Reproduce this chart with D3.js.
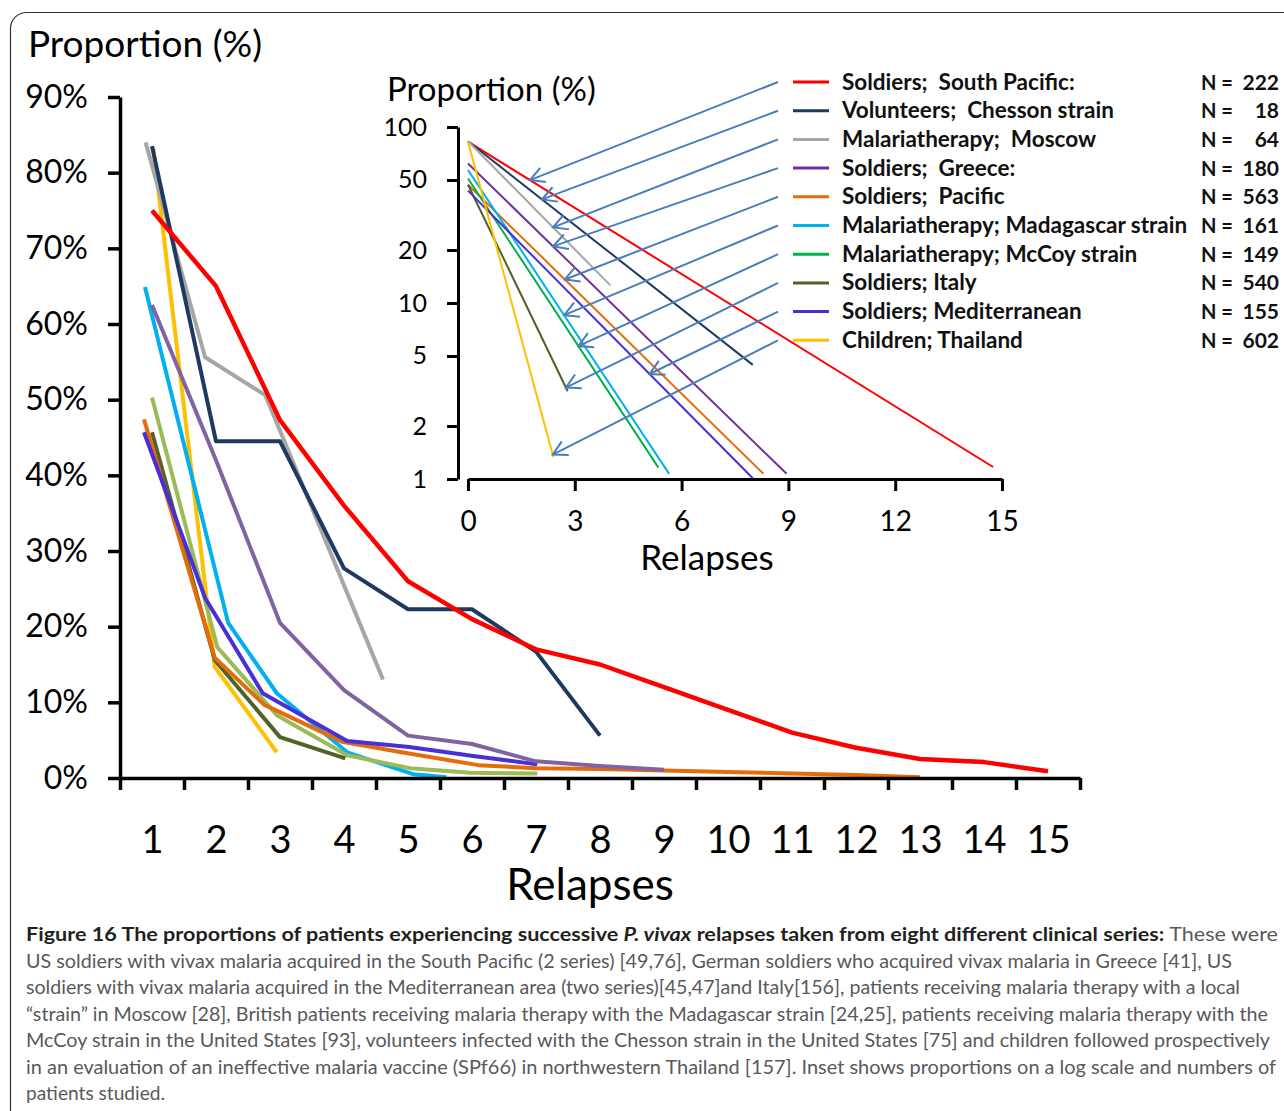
<!DOCTYPE html>
<html><head><meta charset="utf-8">
<script src="https://cdn.jsdelivr.net/npm/d3@7"></script>
<style>
body{margin:0;background:#fff}
svg{display:block}
text{font-family:Lato,"Open Sans",sans-serif}
</style>
</head><body>
<svg id="c" width="1284" height="1111"></svg>
<script>
// ---------- main chart data (relapse number, % of patients) ----------
const relapseLabels = d3.range(1, 16);
const pctTicks = d3.range(0, 100, 10);

const southPacificX = [1,2,3,4,5,6,7,8,9,10,11,12,13,14,15];
const southPacificY = [75,65,47.3,36,26,21,17,15,12,9,6,4,2.5,2.1,0.9];
const chessonX = [1,2,3,4,5,6,7,8];
const chessonY = [83.5,44.5,44.5,27.7,22.3,22.3,16.7,5.6];
const moscowX = [0.9,1.83,2.77,3.69,4.61];
const moscowY = [84,55.6,50.6,31.8,13];
const greeceX = [1,2,3,4,5,6,7,8,9];
const greeceY = [62.5,42,20.5,11.6,5.6,4.5,2.2,1.6,1.1];
const pacificX = [0.875,1.98,2.75,3.97,4.9,6.1,7,8,9,10,11,12,13];
const pacificY = [47.4,15.9,9.7,4.8,3.4,1.7,1.3,1.2,1.0,0.8,0.6,0.4,0.1];
const madagascarX = [0.89,2.19,2.95,4.05,5.08,5.6];
const madagascarY = [64.9,20.5,11.2,3.4,0.5,0.1];
const mccoyX = [1,2.02,2.95,4.05,5.03,5.98,7.02];
const mccoyY = [50.3,17.3,8.3,3.0,1.3,0.7,0.6];
const italyX = [1,1.98,3,4.02];
const italyY = [45.7,15.6,5.4,2.6];
const mediterraneanX = [0.875,1.83,2.73,4.05,5.02,6.02,7.02];
const mediterraneanY = [45.7,23.8,11.2,4.9,4.1,2.9,1.8];
const thailandX = [1.02,1.98,2.95];
const thailandY = [83.3,14.7,3.4];

// ---------- inset (log scale) data, legend order ----------
const legendNames = ["Soldiers;  South Pacific:","Volunteers;  Chesson strain","Malariatherapy;  Moscow","Soldiers;  Greece:","Soldiers;  Pacific","Malariatherapy; Madagascar strain","Malariatherapy; McCoy strain","Soldiers; Italy","Soldiers; Mediterranean","Children; Thailand"];
const legendN = ["222","18","64","180","563","161","149","540","155","602"];
const insetStartX = [0,0,0,0,0,0,0,0,0,0];
const insetStartY = [82.5,83,83,62,47,57,51,47,43.5,82.5];
const insetEndX = [14.75,8.0,4.0,8.95,8.3,5.65,5.35,2.8,8.0,2.4];
const insetEndY = [1.17,4.45,12.6,1.07,1.07,1.07,1.16,3.15,1.01,1.33];
const arrowAt = [1.74,2.08,2.39,2.39,2.72,2.7,3.1,2.75,5.1,2.38];
const insetYTicks = [1,2,5,10,20,50,100];
const insetXTicks = [0,3,6,9,12,15];

// colours
const mainColors = ["#FF0000","#1F3A60","#A6A6A6","#8064A2","#E46C0A","#00B0F0","#9BBB59","#4F6228","#4B2FD6","#FFC000"];
const insetColors = ["#FF0000","#1F3A60","#A6A6A6","#7030A0","#E46C0A","#00B0F0","#00B050","#4F6228","#4B2FD6","#FFC000"];

const mainSeries = [
  [southPacificX,southPacificY],[chessonX,chessonY],[moscowX,moscowY],[greeceX,greeceY],
  [pacificX,pacificY],[madagascarX,madagascarY],[mccoyX,mccoyY],[italyX,italyY],
  [mediterraneanX,mediterraneanY],[thailandX,thailandY]
];
const drawOrder = [9,5,6,7,4,8,3,2,1,0];

const svg = d3.select("#c");
svg.append("rect").attr("width",1284).attr("height",1111).attr("fill","#fff");
// frame
svg.append("rect").attr("x",10.5).attr("y",12.5).attr("width",1300).attr("height",1120)
  .attr("rx",16).attr("fill","none").attr("stroke","#333").attr("stroke-width",1.2);

// ---------- main chart ----------
const x = d3.scaleLinear().domain([0.5,15.5]).range([120,1080]);
const y = d3.scaleLinear().domain([0,90]).range([778,97]);

const line = d3.line().x(d=>x(d[0])).y(d=>y(d[1]));
const gMain = svg.append("g");
drawOrder.forEach(i=>{
  const [xs,ys] = mainSeries[i];
  gMain.append("path").datum(xs.map((v,k)=>[v,ys[k]]))
    .attr("d",line).attr("fill","none").attr("stroke",mainColors[i])
    .attr("stroke-width", i===0?4.5:4).attr("stroke-linejoin","round");
});

const yAx = svg.append("g").attr("transform","translate(120,0)")
  .call(d3.axisLeft(y).tickValues(pctTicks).tickSize(12).tickSizeOuter(0).tickPadding(20).tickFormat(d=>d+"%"));
yAx.selectAll("path,line").attr("stroke","#000").attr("stroke-width",3.5);
yAx.selectAll("text").attr("font-size",32).attr("fill","#000");

const xAx = svg.append("g").attr("transform","translate(0,778)")
  .call(d3.axisBottom(x).tickValues(d3.range(0.5,15.6,1)).tickSize(12).tickSizeOuter(0).tickFormat(""));
xAx.selectAll("path,line").attr("stroke","#000").attr("stroke-width",3.5);
const xLab = svg.append("g").attr("transform","translate(0,778)")
  .call(d3.axisBottom(x).tickValues(relapseLabels).tickSize(0).tickPadding(56));
xLab.select("path").remove();
xLab.selectAll("text").attr("font-size",38).attr("fill","#000").attr("dy","0.5em");

svg.append("text").attr("x",28).attr("y",57).attr("font-size",37).text("Proportion (%)");
svg.append("text").attr("x",590).attr("y",900).attr("text-anchor","middle").attr("font-size",44).text("Relapses");

// ---------- inset ----------
const ix = d3.scaleLinear().domain([0,15]).range([468,1002]);
const iy = d3.scaleLog().domain([1,100]).range([479,127]);

const iyAx = svg.append("g").attr("transform","translate(458,0)")
  .call(d3.axisLeft(iy).tickValues(insetYTicks).tickSize(11).tickSizeOuter(0).tickPadding(20).tickFormat(d3.format("d")));
iyAx.selectAll("path,line").attr("stroke","#000").attr("stroke-width",3);
iyAx.selectAll("text").attr("font-size",25).attr("fill","#000");

const ixAx = svg.append("g").attr("transform","translate(0,479)")
  .call(d3.axisBottom(ix).tickValues(insetXTicks).tickSize(12).tickSizeOuter(0).tickPadding(20));
ixAx.selectAll("path,line").attr("stroke","#000").attr("stroke-width",3);
ixAx.selectAll("text").attr("font-size",28).attr("fill","#000");

svg.append("text").attr("x",387).attr("y",101).attr("font-size",33).text("Proportion (%)");
svg.append("text").attr("x",707).attr("y",570).attr("text-anchor","middle").attr("font-size",35).text("Relapses");

const iLine = d3.line().x(d=>ix(d[0])).y(d=>iy(d[1]));
const gIn = svg.append("g");
legendNames.forEach((n,i)=>{
  gIn.append("path").datum([[insetStartX[i],insetStartY[i]],[insetEndX[i],insetEndY[i]]])
    .attr("d",iLine).attr("fill","none").attr("stroke",insetColors[i]).attr("stroke-width",2);
});

// ---------- legend ----------
const legY0 = 82, legStep = 28.7;
const gLeg = svg.append("g");
legendNames.forEach((n,i)=>{
  const yy = legY0 + i*legStep;
  gLeg.append("line").attr("x1",793).attr("x2",829).attr("y1",yy).attr("y2",yy)
    .attr("stroke",insetColors[i]).attr("stroke-width",3);
  gLeg.append("text").attr("x",842).attr("y",yy+7.5).attr("font-size",22.5).attr("font-weight","bold")
    .attr("fill","#111").attr("xml:space","preserve").style("white-space","pre").text(n);
  gLeg.append("text").attr("x",1201).attr("y",yy+7.5).attr("font-size",21).attr("font-weight","bold")
    .attr("fill","#111").attr("textLength",32).attr("lengthAdjust","spacingAndGlyphs").text("N =");
  gLeg.append("text").attr("x",1279).attr("y",yy+7.5).attr("font-size",21).attr("font-weight","bold")
    .attr("text-anchor","end").attr("fill","#111").text(legendN[i]);
});

// ---------- arrows ----------
const gAr = svg.append("g").attr("stroke","#4A7EBB").attr("stroke-width",2).attr("fill","none");
legendNames.forEach((n,i)=>{
  const x0 = ix(insetStartX[i]), y0 = iy(insetStartY[i]);
  const x1 = ix(insetEndX[i]), y1 = iy(insetEndY[i]);
  const tx = ix(arrowAt[i]);
  const ty = y0 + (y1-y0)*(tx-x0)/(x1-x0);
  const sx = 778, sy = legY0 + i*legStep;
  gAr.append("line").attr("x1",sx).attr("y1",sy).attr("x2",tx).attr("y2",ty);
  const ang = Math.atan2(sy-ty, sx-tx);
  const L = 16, a = 0.5;
  gAr.append("path").attr("d",
    `M${tx+L*Math.cos(ang+a)},${ty+L*Math.sin(ang+a)}L${tx},${ty}L${tx+L*Math.cos(ang-a)},${ty+L*Math.sin(ang-a)}`);
});

// ---------- caption ----------
const capX = 26, capY0 = 941, capStep = 26.5;
const capWidths = [1252,1206,1214,1242,1244,1250,139];
const capLines = [
  null,
  "US soldiers with vivax malaria acquired in the South Pacific (2 series) [49,76], German soldiers who acquired vivax malaria in Greece [41], US",
  "soldiers with vivax malaria acquired in the Mediterranean area (two series)[45,47]and Italy[156], patients receiving malaria therapy with a local",
  "\u201cstrain\u201d in Moscow [28], British patients receiving malaria therapy with the Madagascar strain [24,25], patients receiving malaria therapy with the",
  "McCoy strain in the United States [93], volunteers infected with the Chesson strain in the United States [75] and children followed prospectively",
  "in an evaluation of an ineffective malaria vaccine (SPf66) in northwestern Thailand [157]. Inset shows proportions on a log scale and numbers of",
  "patients studied."
];
const gCap = svg.append("g").attr("font-size",19);
const t1 = gCap.append("text").attr("x",capX).attr("y",capY0)
  .attr("textLength",capWidths[0]).attr("lengthAdjust","spacingAndGlyphs");
t1.append("tspan").attr("font-weight","bold").attr("fill","#231F20").text("Figure 16 The proportions of patients experiencing successive ");
t1.append("tspan").attr("font-weight","bold").attr("font-style","italic").attr("fill","#231F20").text("P. vivax");
t1.append("tspan").attr("font-weight","bold").attr("fill","#231F20").text(" relapses taken from eight different clinical series:");
t1.append("tspan").attr("fill","#58595B").text(" These were");
capLines.forEach((s,i)=>{
  if(!s) return;
  gCap.append("text").attr("x",capX).attr("y",capY0+i*capStep).attr("fill","#58595B")
    .attr("textLength",capWidths[i]).attr("lengthAdjust","spacingAndGlyphs").text(s);
});
</script>
</body></html>
